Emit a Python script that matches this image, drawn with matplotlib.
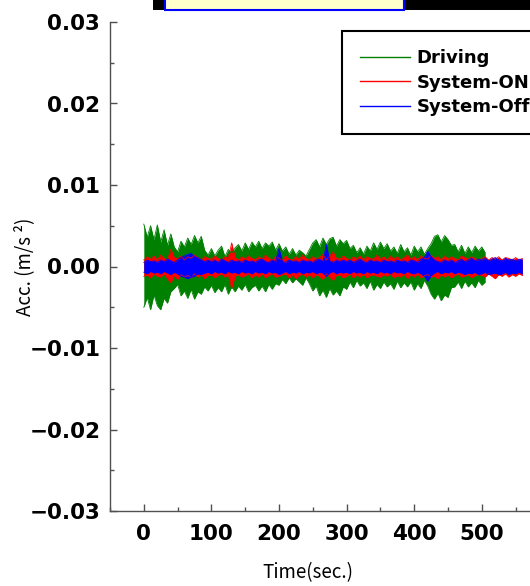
import numpy as np
import matplotlib
matplotlib.use("Agg")
import matplotlib.pyplot as plt
from matplotlib.patches import Rectangle
from matplotlib.ticker import MultipleLocator, FixedLocator, FixedFormatter

# ---- data -----------------------------------------------------------------
# Envelope of the measured acceleration, sampled every 5 s, in units of 1e-4 m/s^2
dt = 5.0
scale = 1e-4

driving_hi = [52, 36, 50, 33, 51, 30, 45, 26, 40, 24,
              18, 31, 24, 35, 27, 38, 29, 37, 20, 14,
              22, 13, 20, 25, 12, 21, 16, 23, 27, 19,
              29, 21, 30, 24, 31, 22, 29, 25, 30, 20,
              28, 19, 24, 15, 22, 14, 20, 17, 13, 21,
              29, 33, 24, 35, 27, 34, 36, 25, 33, 28,
              32, 22, 26, 17, 23, 15, 25, 19, 29, 21,
              30, 22, 28, 19, 24, 16, 27, 18, 23, 14,
              25, 18, 24, 15, 22, 28, 37, 39, 30, 38,
              33, 26, 27, 18, 26, 16, 24, 17, 25, 19,
              24, 17]
driving_lo = [50, 38, 53, 35, 48, 53, 39, 45, 31, 27,
              22, 36, 30, 39, 28, 40, 31, 34, 25, 30,
              23, 32, 26, 31, 22, 34, 25, 31, 24, 29,
              22, 31, 26, 23, 30, 24, 31, 22, 28, 21,
              23, 16, 21, 14, 20, 15, 19, 23, 14, 21,
              30, 24, 36, 29, 38, 27, 35, 30, 36, 25,
              28, 19, 26, 17, 24, 20, 27, 18, 29, 22,
              27, 19, 25, 21, 28, 18, 26, 20, 25, 19,
              29, 21, 27, 17, 24, 34, 40, 33, 42, 35,
              38, 26, 25, 19, 27, 18, 25, 20, 26, 17,
              23, 19]

sys_on_hi = [8, 12, 9, 13, 8, 14, 10, 8, 21, 11,
             9, 13, 8, 12, 10, 14, 11, 8, 12, 10,
             9, 13, 10, 8, 12, 10, 29, 11, 8, 12,
             9, 13, 10, 8, 12, 9, 14, 10, 8, 12,
             10, 8, 13, 9, 8, 12, 9, 14, 10, 8,
             12, 9, 11, 15, 8, 13, 18, 10, 9, 13,
             10, 8, 12, 9, 13, 8, 12, 10, 9, 14,
             9, 12, 8, 13, 9, 12, 8, 11, 14, 9,
             12, 8, 13, 10, 9, 14, 10, 12, 8, 13,
             9, 12, 10, 8, 13, 11, 9, 12, 10, 8,
             10, 12, 8, 11, 9, 12, 8, 11, 10, 8,
             11, 8, 10]
sys_on_lo = [12, 10, 14, 9, 12, 13, 9, 15, 20, 11,
             16, 10, 13, 11, 14, 9, 13, 10, 15, 11,
             10, 14, 11, 9, 13, 10, 27, 12, 10, 13,
             11, 9, 14, 10, 13, 9, 14, 11, 9, 13,
             12, 10, 9, 14, 10, 15, 11, 9, 13, 10,
             14, 10, 12, 16, 9, 13, 17, 11, 10, 14,
             12, 9, 14, 10, 13, 9, 14, 11, 10, 12,
             13, 10, 12, 9, 14, 11, 13, 9, 15, 10,
             13, 9, 14, 11, 10, 13, 12, 15, 10, 13,
             10, 14, 11, 9, 13, 12, 10, 14, 11, 10,
             11, 13, 9, 12, 15, 10, 12, 9, 13, 10,
             12, 9, 11]

sys_off_hi = [5, 8, 6, 7, 5, 8, 6, 9, 7, 5,
              8, 11, 13, 15, 16, 12, 11, 8, 6, 8,
              6, 8, 5, 9, 7, 5, 8, 6, 7, 5,
              8, 6, 7, 5, 8, 9, 6, 5, 8, 6,
              22, 6, 5, 8, 6, 7, 5, 8, 6, 7,
              5, 8, 9, 6, 27, 7, 5, 8, 6, 8,
              6, 8, 5, 7, 9, 6, 5, 8, 6, 7,
              5, 8, 6, 7, 5, 8, 6, 7, 5, 8,
              7, 5, 9, 11, 19, 12, 8, 6, 5, 8,
              6, 8, 5, 7, 9, 6, 8, 10, 7, 9,
              8, 10, 7, 9, 11, 8, 7, 10, 8, 9,
              7, 9, 8]
sys_off_lo = [7, 9, 6, 8, 7, 9, 6, 8, 10, 7,
              9, 12, 13, 15, 13, 12, 9, 10, 8, 7,
              9, 6, 8, 7, 9, 6, 8, 7, 9, 6,
              8, 7, 9, 6, 8, 7, 9, 6, 8, 7,
              10, 8, 6, 9, 7, 8, 6, 9, 7, 8,
              6, 9, 7, 8, 12, 8, 6, 9, 7, 8,
              7, 9, 6, 8, 7, 9, 6, 8, 7, 9,
              6, 8, 7, 9, 6, 8, 7, 9, 6, 8,
              9, 7, 9, 12, 18, 11, 8, 6, 9, 7,
              8, 6, 9, 7, 8, 10, 8, 9, 7, 10,
              9, 7, 10, 9, 8, 10, 9, 7, 10, 8,
              9, 7, 9]

series_names = ["Driving", "System-ON", "System-Off"]
series_colors = ["#008000", "#ff0000", "#0000ff"]

x_ticks = [0, 100, 200, 300, 400, 500]
x_tick_labels = ["0", "100", "200", "300", "400", "500"]
y_ticks = [-0.03, -0.02, -0.01, 0.00, 0.01, 0.02, 0.03]
y_tick_labels = ["\u22120.03", "\u22120.02", "\u22120.01", "0.00", "0.01", "0.02", "0.03"]

# ---- figure ---------------------------------------------------------------
W, H = 530, 586
fig = plt.figure(figsize=(W / 100, H / 100), dpi=100)
fig.patch.set_facecolor("white")

ax_left, ax_top, ax_bottom = 110, 22, 511
ax_w = 650 * 0.676
ax = fig.add_axes([ax_left / W, (H - ax_bottom) / H, ax_w / W, (ax_bottom - ax_top) / H])
ax.set_xlim(-50, 600)
ax.set_ylim(-0.03, 0.03)

envelopes = [(driving_hi, driving_lo), (sys_on_hi, sys_on_lo), (sys_off_hi, sys_off_lo)]
for (hi, lo), name, col in zip(envelopes, series_names, series_colors):
    hi = np.asarray(hi, float) * scale
    lo = np.asarray(lo, float) * scale
    t = np.arange(len(hi)) * dt
    ax.fill_between(t, -lo, hi, color=col, lw=0)
    ax.plot(t, hi, color=col, lw=0.6)
    ax.plot(t, -lo, color=col, lw=0.6)
    ax.plot([], [], color=col, lw=1.0, label=name)

spine_col = "#505050"
for side in ("top", "right"):
    ax.spines[side].set_visible(False)
for side in ("left", "bottom"):
    ax.spines[side].set_color(spine_col)
    ax.spines[side].set_linewidth(1.0)

ax.xaxis.set_major_locator(FixedLocator(x_ticks))
ax.xaxis.set_major_formatter(FixedFormatter(x_tick_labels))
ax.xaxis.set_minor_locator(MultipleLocator(50))
ax.yaxis.set_major_locator(FixedLocator(y_ticks))
ax.yaxis.set_major_formatter(FixedFormatter(y_tick_labels))
ax.yaxis.set_minor_locator(MultipleLocator(0.005))

ax.tick_params(which="both", direction="in", color=spine_col, width=1.0)
ax.tick_params(which="major", length=5)
ax.tick_params(which="minor", length=3)
ax.tick_params(axis="x", which="major", pad=9)
ax.tick_params(axis="y", which="major", pad=7)
for lab in ax.get_xticklabels() + ax.get_yticklabels():
    lab.set_fontfamily("DejaVu Sans")
    lab.set_fontweight("bold")
    lab.set_fontsize(15.5)
    lab.set_color("black")

label_font = ["Noto Sans CJK JP", "DejaVu Sans"]
ax.set_xlabel("Time(sec.)", fontsize=13.5, family=label_font)
ax.xaxis.set_label_coords((308 - ax_left) / ax_w, -62 / (ax_bottom - ax_top), transform=ax.transAxes)
ax.xaxis.label.set_verticalalignment("center")
ax.set_ylabel("Acc. (m/s \u00b2)", fontsize=13.5, family=label_font)
ax.yaxis.set_label_coords(-(ax_left - 25) / ax_w, 0.5, transform=ax.transAxes)
ax.yaxis.label.set_verticalalignment("center")

leg = ax.legend(loc="upper left", bbox_to_anchor=(342 / W, 1 - 31 / H),
                bbox_transform=fig.transFigure, borderaxespad=0,
                fancybox=False, shadow=False, framealpha=1,
                prop={"family": "DejaVu Sans", "weight": "bold", "size": 13},
                handlelength=2.75, handletextpad=0.38, labelspacing=0.36,
                borderpad=1.0)
leg.get_frame().set_edgecolor("black")
leg.get_frame().set_linewidth(1.5)

# title banner along the upper edge
fig.patches.append(Rectangle((153 / W, 1 - 9.5 / H), (W - 153) / W, 12 / H,
                             transform=fig.transFigure, facecolor="black",
                             edgecolor="none", zorder=5))
fig.patches.append(Rectangle((165 / W, 1 - 10 / H), (404 - 165) / W, 20 / H,
                             transform=fig.transFigure, facecolor="#ffffcc",
                             edgecolor="#0000ff", linewidth=1.5, zorder=6))

fig.savefig("out.png", dpi=100)
